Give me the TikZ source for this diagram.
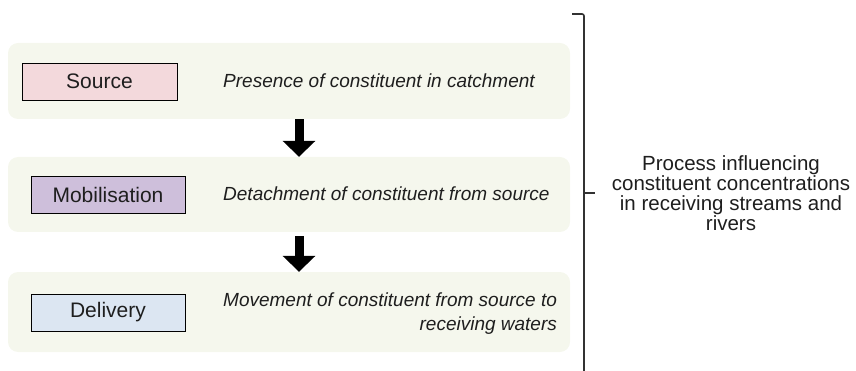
\documentclass[tikz,border=0pt]{standalone}
\usepackage{fontspec}
\setmainfont{Liberation Sans}
\usetikzlibrary{arrows.meta}
\definecolor{panelbg}{RGB}{245,247,237}
\definecolor{srcfill}{RGB}{243,217,220}
\definecolor{mobfill}{RGB}{206,191,219}
\definecolor{delfill}{RGB}{220,230,242}
\definecolor{txt}{RGB}{30,30,30}
\definecolor{brk}{RGB}{50,50,50}
\tikzset{
  panel/.style={rounded corners=10pt, fill=panelbg, draw=none, minimum width=562pt, inner sep=0pt},
  stagebox/.style={draw=black, line width=0.9pt, minimum width=154pt, minimum height=37pt, inner sep=0pt, text=txt, font=\fontsize{21}{25}\selectfont},
  desc/.style={anchor=west, inner sep=0pt, text=txt, font=\fontsize{19}{24}\selectfont\itshape},
  blockarrow/.style={line width=9pt, -{Triangle[width=32pt,length=16pt]}, black},
  bracketline/.style={draw=brk, line width=1.6pt, rounded corners=2pt},
}
\begin{document}
\begin{tikzpicture}[x=1pt,y=-1pt]
\useasboundingbox (0,0) rectangle (856,371);
% panels
\node[panel, minimum height=76pt] (p1) at (289,81) {};
\node[panel, minimum height=75pt] (p2) at (289,194.5) {};
\node[panel, minimum height=80pt] (p3) at (289,312) {};
% stage boxes
\node[stagebox, fill=srcfill, minimum width=155pt] (src) at (99.5,81.5) {Source};
\node[stagebox, fill=mobfill] (mob) at (108,194.5) {Mobilisation};
\node[stagebox, fill=delfill] (del) at (108,312.5) {Delivery};
% descriptions
\node[desc] (d1) at (223,80.5) {Presence of constituent in catchment};
\node[desc] (d2) at (223,193.5) {Detachment of constituent from source};
\node[desc, align=right] (d3) at (223,314) {Movement of constituent from source to\\receiving waters};
% arrows
\coordinate (ax) at (299,0);
\draw[blockarrow] (p1.south -| ax) -- (p2.north -| ax);
\draw[blockarrow, shorten <=4pt] (p2.south -| ax) -- (p3.north -| ax);
% bracket
\coordinate (bstart) at (572,14);
\coordinate (btop) at (584,14);
\coordinate (bbot) at (584,372);
\coordinate (bmid) at (584,193);
\coordinate (btick) at (595,193);
\draw[bracketline] (bstart) -- (btop) -- (bbot);
\draw[draw=brk, line width=1.4pt] (bmid) -- (btick);
% right label
\node[align=center, inner sep=0pt, text=txt, font=\fontsize{20.5}{20}\selectfont] (lbl) at (731,193)
  {Process influencing\\constituent concentrations\\in receiving streams and\\rivers};
\end{tikzpicture}
\end{document}
